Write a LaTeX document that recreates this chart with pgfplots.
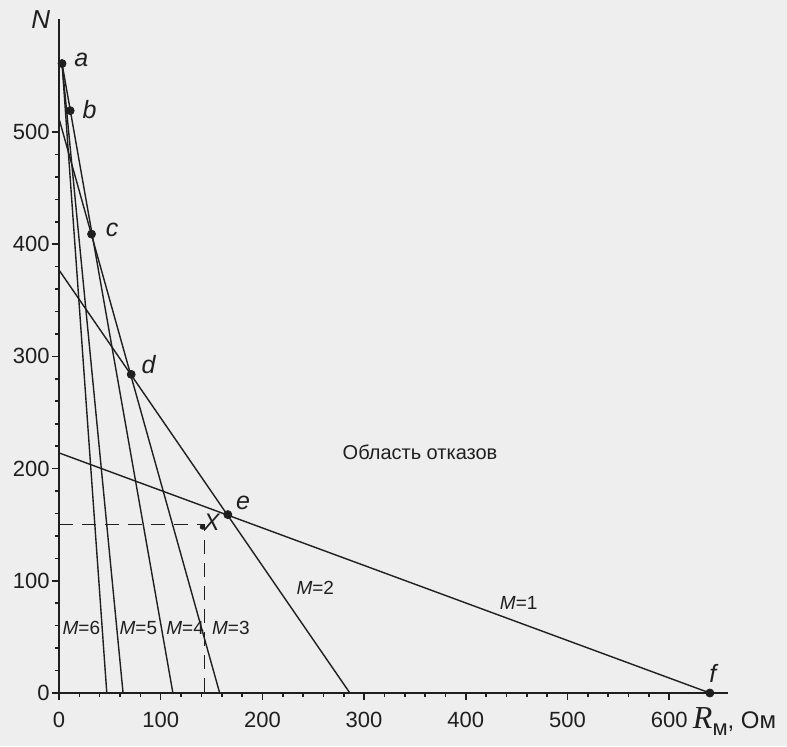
\documentclass[border=0pt]{standalone}
\usepackage{fontspec}
\setmainfont{Liberation Sans}
\newfontfamily\seriffont{Liberation Serif}
\usepackage{pgfplots}
\pgfplotsset{compat=1.18}
\definecolor{paper}{gray}{0.935}
\definecolor{ink}{gray}{0.12}
\begin{document}
\begin{tikzpicture}
\fill[paper] (-29.5pt,-26.5pt) rectangle (364pt,346.5pt);
\begin{axis}[
  anchor=origin, at={(0pt,0pt)},
  x=0.5085pt, y=0.561pt,
  xmin=0, xmax=658, ymin=0, ymax=601,
  axis x line=bottom, axis y line=left,
  axis line style={-, line width=1pt, ink},
  xtick={0,100,...,600}, ytick={0,100,...,500},
  minor x tick num=4, minor y tick num=4,
  tick align=outside,
  major tick length=3.5pt, minor tick length=2pt,
  tick style={ink, line width=0.8pt},
  /pgf/number format/assume math mode=true,
  tick label style={font=\fontsize{11}{13}\selectfont, text=ink},
  yticklabel style={inner sep=1pt},
  xticklabel style={yshift=-2.5pt},
  clip=false,
]
% lines
\addplot[ink, line width=0.7pt] coordinates {(0,214) (640,0)};
\addplot[ink, line width=0.7pt] coordinates {(0,377) (286,0)};
\addplot[ink, line width=0.7pt] coordinates {(0,512) (158,0)};
\addplot[ink, line width=0.7pt] coordinates {(3,561) (112,0)};
\addplot[ink, line width=0.7pt] coordinates {(3,561) (63,0)};
\addplot[ink, line width=0.7pt] coordinates {(3,561) (47,0)};
% dashed
\addplot[ink, line width=0.7pt, dash pattern=on 7pt off 4.5pt] coordinates {(0,150) (143,150) (143,0)};
\addplot[only marks, mark=*, mark size=1.1pt, ink] coordinates {(141,148)};
% points
\addplot[only marks, mark=*, mark size=2pt, ink] coordinates {(3,561) (11,519) (32,409) (71,284) (166,159) (640,0)};
% point labels
\node[anchor=west, font=\itshape\fontsize{12.5}{14}\selectfont, text=ink, inner sep=0pt] at (axis cs:3,561) [xshift=6pt, yshift=2pt] {a};
\node[anchor=west, font=\itshape\fontsize{12.5}{14}\selectfont, text=ink, inner sep=0pt] at (axis cs:11,519) [xshift=6pt, yshift=0.5pt] {b};
\node[anchor=west, font=\itshape\fontsize{12.5}{14}\selectfont, text=ink, inner sep=0pt] at (axis cs:32,409) [xshift=7pt, yshift=2pt] {c};
\node[anchor=west, font=\itshape\fontsize{12.5}{14}\selectfont, text=ink, inner sep=0pt] at (axis cs:71,284) [xshift=5pt, yshift=5pt] {d};
\node[anchor=west, font=\itshape\fontsize{12.5}{14}\selectfont, text=ink, inner sep=0pt] at (axis cs:166,159) [xshift=4pt, yshift=6pt] {e};
\node[anchor=center, font=\itshape\fontsize{12.5}{14}\selectfont, text=ink, inner sep=0pt] at (axis cs:640,0) [xshift=1.5pt, yshift=10pt] {f};
\node[font=\itshape\fontsize{12}{14}\selectfont, text=ink, inner sep=0pt] at (axis cs:150,152) {X};
% M labels
\node[font=\fontsize{9.5}{11}\selectfont, text=ink] at (axis cs:22,58) {\textit{M}=6};
\node[font=\fontsize{9.5}{11}\selectfont, text=ink] at (axis cs:78,58) {\textit{M}=5};
\node[font=\fontsize{9.5}{11}\selectfont, text=ink] at (axis cs:124,58) {\textit{M}=4};
\node[font=\fontsize{9.5}{11}\selectfont, text=ink] at (axis cs:169,58) {\textit{M}=3};
\node[font=\fontsize{9.5}{11}\selectfont, text=ink] at (axis cs:252,94) {\textit{M}=2};
\node[font=\fontsize{9.5}{11}\selectfont, text=ink] at (axis cs:452,80) {\textit{M}=1};
\node[font=\fontsize{10}{12}\selectfont, text=ink] at (axis cs:355,215) {Область отказов};
% axis labels
\node[font=\itshape\fontsize{13}{15}\selectfont, text=ink, inner sep=0pt] at (axis cs:-18,600) {N};
\node[anchor=base west, inner sep=0pt, text=ink] at (axis cs:623,-32) {{\seriffont\itshape\fontsize{16}{18}\selectfont R}\raisebox{-3.5pt}{\fontsize{11}{13}\selectfont м}{\fontsize{12}{14}\selectfont, Ом}};
\end{axis}
\pgfresetboundingbox
\useasboundingbox (-29.5pt,-26.5pt) rectangle (364pt,346.5pt);
\end{tikzpicture}
\end{document}
